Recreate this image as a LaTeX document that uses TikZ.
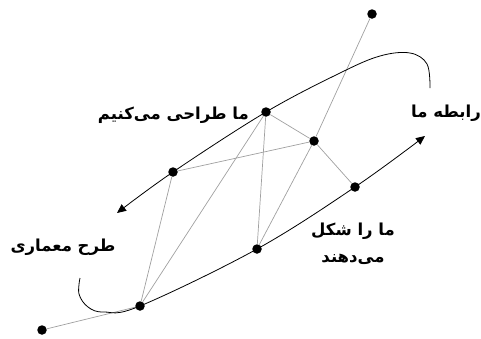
\documentclass[tikz,border=0pt]{standalone}
\usepackage{fontspec}
\usepackage{tikz}
\usetikzlibrary{arrows.meta, positioning}
\TeXXeTstate=1
\newfontfamily\farsifont[Script=Arabic]{DejaVu Sans}
\definecolor{edgegray}{HTML}{A0A0A0}

\begin{document}
\begin{tikzpicture}[x=1pt, y=-1pt]
    \tikzstyle{dot}=[circle, fill=black, inner sep=0pt, minimum size=9.5pt]
    \tikzstyle{edge}=[edgegray, line width=0.7pt]
    \tikzstyle{curve}=[black, line width=0.8pt]
    \tikzstyle{arr}=[-{Triangle[length=9pt, width=8pt]}]
    \tikzstyle{lbl}=[font=\farsifont\bfseries\fontsize{16.5}{27}\selectfont, align=center, inner sep=0pt]

    \useasboundingbox (0,0) rectangle (481,338);

    % points
    \node[dot] (top) at (372,14)  {};
    \node[dot] (a)   at (266,112) {};
    \node[dot] (b)   at (314,141) {};
    \node[dot] (c)   at (173,172) {};
    \node[dot] (d)   at (355,187) {};
    \node[dot] (e)   at (257,249) {};
    \node[dot] (f)   at (140,306) {};
    \node[dot] (low) at (42,330)  {};

    % curve ends
    \coordinate (upend) at (430,88);
    \coordinate (uptip) at (117,213);
    \coordinate (dnend) at (80,278);
    \coordinate (dntip) at (425,136);

    % gray links
    \draw[edge] (top) -- (b);
    \draw[edge] (b) -- (e);
    \draw[edge] (a) -- (b);
    \draw[edge] (b) -- (d);
    \draw[edge] (c) -- (b);
    \draw[edge] (a) -- (e);
    \draw[edge] (a) -- (f);
    \draw[edge] (c) -- (f);
    \draw[edge] (low) -- (f);

    % black curves
    \draw[curve, arr] plot[smooth, tension=0.6] coordinates
        {(upend) (427,64) (410,53) (380,56) (340,73) (a.center) (c.center) (uptip)};
    \draw[curve, arr] plot[smooth, tension=0.6] coordinates
        {(dnend) (79,294) (88,307) (104,312) (f.center) (e.center) (d.center) (dntip)};

    % labels
    \node[lbl, anchor=east] (ldesign) at (249,115) {\beginR ما طراحی می‌کنیم\endR};
    \node[lbl, anchor=east] (lrel)    at (481,113) {\beginR رابطه ما\endR};
    \node[lbl] (larch)  at (63,247)  {\beginR طرح معماری\endR};
    \node[lbl] (lshape) at (353,244) {\beginR ما را شکل\endR\\\beginR می‌دهند\endR};
\end{tikzpicture}
\end{document}
